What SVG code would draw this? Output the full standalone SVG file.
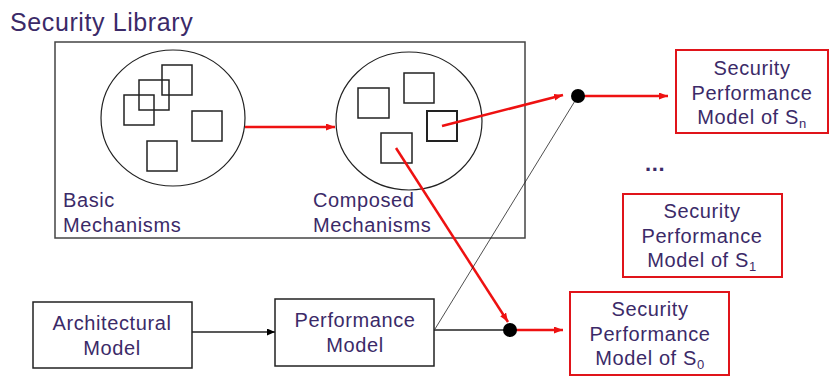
<svg xmlns="http://www.w3.org/2000/svg" width="831" height="376" viewBox="0 0 831 376">
<defs>
<marker id="ar" viewBox="0 0 10 10" refX="10" refY="5" markerWidth="9" markerHeight="7" markerUnits="userSpaceOnUse" orient="auto" preserveAspectRatio="none"><path d="M0,0 L10,5 L0,10 z" fill="#ee1111"/></marker>
<marker id="ab" viewBox="0 0 10 10" refX="10" refY="5" markerWidth="8" markerHeight="7" markerUnits="userSpaceOnUse" orient="auto" preserveAspectRatio="none"><path d="M0,0 L10,5 L0,10 z" fill="#000"/></marker>
</defs>
<style>
text{font-family:"Liberation Sans",Arial,sans-serif;fill:#3b2a68;font-size:20px;letter-spacing:0.6px}
.t{text-anchor:middle}
.box{fill:#fff;stroke:#222;stroke-width:1.5}
.rbox{fill:#fff;stroke:#e0141a;stroke-width:2}
.sq{fill:none;stroke:#222;stroke-width:1.5}
.circ{fill:#fff;stroke:#222;stroke-width:1.2}
.red{stroke:#ee1111;stroke-width:2.5;fill:none}
.blk{stroke:#222;stroke-width:1.5;fill:none}
.thin{stroke:#222;stroke-width:0.8;fill:none}
</style>
<rect width="831" height="376" fill="#fff"/>
<text x="10" y="31" style="font-size:25px">Security Library</text>
<g id="library">
<rect x="55" y="42" width="470" height="196" fill="#fff" stroke="#444" stroke-width="1.5"/>
</g>
<g id="basic">
<ellipse class="circ" cx="173" cy="118" rx="72" ry="68"/>
<rect class="sq" x="162" y="65" width="30" height="30"/>
<rect class="sq" x="139" y="80" width="30" height="30"/>
<rect class="sq" x="124" y="95" width="30" height="30"/>
<rect class="sq" x="192" y="111" width="30" height="30"/>
<rect class="sq" x="147" y="141" width="30" height="30"/>
<text x="63" y="207">Basic</text>
<text x="63" y="232">Mechanisms</text>
</g>
<g id="composed">
<ellipse class="circ" cx="409" cy="121" rx="73" ry="69"/>
<rect class="sq" x="358" y="88" width="31" height="30"/>
<rect class="sq" x="404" y="73" width="30" height="30"/>
<rect class="sq" x="427" y="111" width="30" height="30" style="stroke-width:2"/>
<rect class="sq" x="381" y="133" width="31" height="30"/>
<text x="313" y="207">Composed</text>
<text x="313" y="232">Mechanisms</text>
</g>
<g id="arch">
<rect class="box" x="33" y="302" width="159" height="66"/>
<text class="t" x="112" y="330">Architectural</text>
<text class="t" x="112" y="355">Model</text>
</g>
<g id="perf">
<rect class="box" x="275" y="299" width="159" height="67"/>
<text class="t" x="355" y="327">Performance</text>
<text class="t" x="355" y="352">Model</text>
</g>
<g id="sn">
<rect class="rbox" x="676" y="50" width="152" height="83"/>
<text class="t" x="752" y="75">Security</text>
<text class="t" x="752" y="100">Performance</text>
<text class="t" x="752" y="124">Model of S<tspan style="font-size:13px" dy="4">n</tspan></text>
</g>
<g id="s1">
<rect class="rbox" x="623" y="194" width="159" height="83"/>
<text class="t" x="702" y="218">Security</text>
<text class="t" x="702" y="243">Performance</text>
<text class="t" x="702" y="267">Model of S<tspan style="font-size:13px" dy="4">1</tspan></text>
</g>
<g id="s0">
<rect class="rbox" x="570" y="292" width="159" height="83"/>
<text class="t" x="650" y="316">Security</text>
<text class="t" x="650" y="341">Performance</text>
<text class="t" x="650" y="365">Model of S<tspan style="font-size:13px" dy="4">0</tspan></text>
</g>
<text x="645" y="171" style="font-size:22px;font-weight:bold">...</text>
<g id="connectors">
<line class="red" x1="245" y1="127" x2="335" y2="127" marker-end="url(#ar)"/>
<line class="red" x1="442" y1="126" x2="563" y2="95" marker-end="url(#ar)"/>
<line class="red" x1="396" y1="148" x2="508" y2="322" marker-end="url(#ar)"/>
<line class="red" x1="584" y1="96" x2="668" y2="96" marker-end="url(#ar)"/>
<line class="red" x1="516" y1="330" x2="563" y2="330" marker-end="url(#ar)"/>
<line class="thin" x1="435" y1="329" x2="578" y2="96"/>
<line class="blk" x1="434" y1="330" x2="510" y2="330"/>
<line class="blk" x1="192" y1="332" x2="275" y2="332" marker-end="url(#ab)"/>
<circle cx="578" cy="96" r="7" fill="#000"/>
<circle cx="510" cy="330" r="7" fill="#000"/>
</g>
</svg>
